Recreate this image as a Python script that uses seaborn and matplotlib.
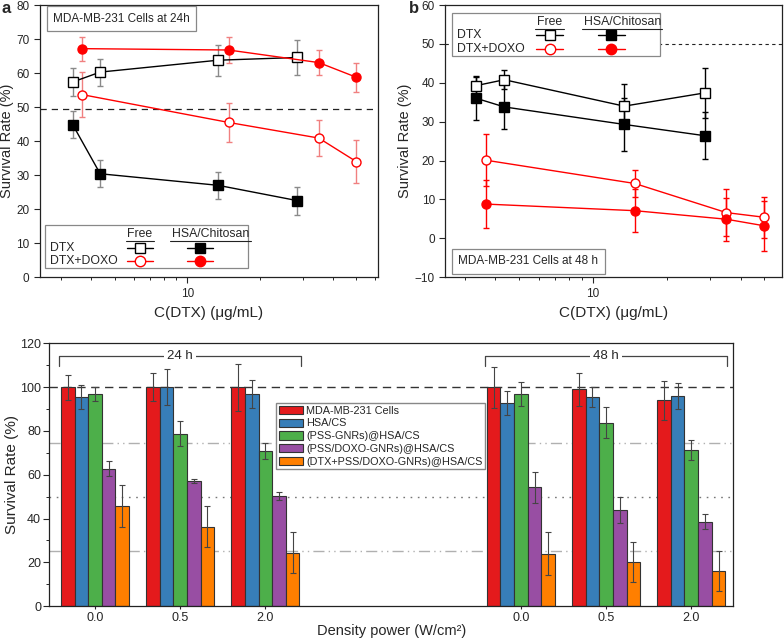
import numpy as np
import pandas as pd
import matplotlib
matplotlib.use('Agg')
import matplotlib.pyplot as plt
from matplotlib.patches import Rectangle, Patch
from matplotlib.ticker import NullFormatter, MultipleLocator, FixedLocator, FuncFormatter
import seaborn as sns

sns.set_style('ticks')
plt.rcParams['font.family'] = ['Liberation Sans', 'DejaVu Sans']

# ---- data: panels a / b (survival vs DTX concentration) ----
conc_dtx = [3.35, 4.35, 13.4, 28.5]      # x for DTX series
conc_doxo = [3.65, 14.8, 35.0, 50.0]     # x for DTX+DOXO series

a_dtx_free = [57.4, 60.3, 63.8, 64.6]
a_dtx_free_err = [4.0, 4.0, 4.6, 5.2]
a_dtx_hsa = [44.8, 30.4, 27.0, 22.5]
a_dtx_hsa_err = [4.0, 4.0, 4.0, 4.1]
a_doxo_free = [53.7, 45.5, 40.9, 34.0]
a_doxo_free_err = [6.5, 5.8, 5.3, 6.3]
a_doxo_hsa = [67.2, 66.8, 63.1, 58.8]
a_doxo_hsa_err = [3.5, 3.8, 3.6, 4.3]

b_dtx_free = [39.3, 40.8, 34.0, 37.4]
b_dtx_free_err = [2.4, 2.5, 5.6, 6.4]
b_dtx_hsa = [36.0, 33.8, 29.3, 26.4]
b_dtx_hsa_err = [5.6, 5.8, 6.8, 6.0]
b_doxo_free = [20.1, 14.1, 6.6, 5.4]
b_doxo_free_err = [6.7, 3.5, 6.0, 5.3]
b_doxo_hsa = [8.8, 7.1, 4.9, 3.2]
b_doxo_hsa_err = [6.1, 5.6, 5.5, 6.4]

# ---- data: bottom panel (bars) ----
times = ['24 h', '48 h']
powers = ['0.0', '0.5', '2.0']
treatments = ['MDA-MB-231 Cells', 'HSA/CS', '(PSS-GNRs)@HSA/CS',
              '(PSS/DOXO-GNRs)@HSA/CS', '(DTX+PSS/DOXO-GNRs)@HSA/CS']
# order of values: 24h 0.0, 0.5, 2.0, 48h 0.0, 0.5, 2.0
cells_mean = [100, 100, 100, 100, 99, 94]
cells_err = [5.7, 6.3, 10.8, 9.4, 7.6, 9.0]
hsa_mean = [95.5, 100, 96.7, 92.7, 95.6, 96]
hsa_err = [5.5, 8.2, 6.4, 5.5, 4.5, 5.8]
pss_mean = [96.7, 78.8, 70.9, 97, 83.8, 71.2]
pss_err = [3.2, 5.8, 3.8, 5.5, 7.0, 4.7]
doxo_mean = [62.8, 57.2, 50.3, 54.2, 44, 38.5]
doxo_err = [3.5, 0.8, 2.0, 7.0, 6.0, 3.5]
dtx_mean = [45.7, 36.2, 24.4, 24, 20.3, 16]
dtx_err = [9.8, 9.3, 9.3, 9.7, 9.1, 9.3]
bar_colors = ['#E41A1C', '#377EB8', '#4DAF4A', '#984EA3', '#FF7F00']

fig = plt.figure(figsize=(7.84, 6.4), dpi=100)
ax_a = fig.add_axes([0.051, 0.567, 0.431, 0.425])
ax_b = fig.add_axes([0.568, 0.567, 0.4295, 0.425])
ax_c = fig.add_axes([0.063, 0.053, 0.872, 0.4105])


def draw_series(ax, x, y, err, color, marker, filled, ecolor):
    sns.lineplot(x=x, y=y, ax=ax, color=color, lw=1, marker=marker, markersize=6.5,
                 markerfacecolor=color if filled else 'white', markeredgecolor=color,
                 markeredgewidth=1, zorder=3)
    ax.errorbar(x, y, yerr=err, fmt='none', ecolor=ecolor, elinewidth=1,
                capsize=2.5, capthick=1, zorder=2)


def table_legend(ax, x0, y0, w, h):
    ax.add_patch(Rectangle((x0, y0), w, h, transform=ax.transAxes, facecolor='white',
                           edgecolor='#888888', lw=0.9, zorder=4))
    fx = lambda f: x0 + f * w
    fy = lambda f: y0 + f * h
    r = fig.canvas.get_renderer()
    for label, cx in [('Free', 0.468), ('HSA/Chitosan', 0.816)]:
        t = ax.text(fx(cx), fy(0.79), label, transform=ax.transAxes, ha='center',
                    va='center', fontsize=8.8, zorder=5)
        bb = t.get_window_extent(renderer=r).transformed(ax.transAxes.inverted())
        ax.plot([bb.x0 - 0.005, bb.x1 + 0.005], [bb.y0 - 0.004] * 2, transform=ax.transAxes,
                color='#222222', lw=0.8, zorder=5)
    rows = [('DTX', 'k', 's', 0.48), ('DTX+DOXO', 'red', 'o', 0.16)]
    for label, c, m, ry in rows:
        ax.text(fx(0.025), fy(ry), label, transform=ax.transAxes, ha='left',
                va='center', fontsize=8.8, zorder=5)
        for cx, filled in [(0.468, False), (0.765, True)]:
            ax.plot([fx(cx - 0.064), fx(cx + 0.064)], [fy(ry)] * 2, transform=ax.transAxes,
                    color=c, lw=1, zorder=5)
            ax.plot([fx(cx)], [fy(ry)], transform=ax.transAxes, marker=m, markersize=7.5,
                    markerfacecolor=c if filled else 'white', markeredgecolor=c,
                    markeredgewidth=1, zorder=6)


def style_log_axis(ax, xlim, ylim, ystep):
    ax.set_xscale('log')
    ax.set_xlim(*xlim)
    ax.set_ylim(*ylim)
    ax.yaxis.set_major_locator(MultipleLocator(ystep))
    ax.xaxis.set_major_formatter(FuncFormatter(lambda v, p: f'{v:g}'))
    ax.xaxis.set_minor_formatter(NullFormatter())
    ax.tick_params(axis='both', which='major', labelsize=8.5, direction='out', length=4,
                   width=0.8, top=False, right=False)
    ax.tick_params(axis='x', which='minor', direction='out', length=2.5, width=0.7)
    for s in ax.spines.values():
        s.set_linewidth(0.9)
        s.set_color('#222222')
    ax.set_xlabel('C(DTX) (μg/mL)', fontsize=11, labelpad=5)
    ax.set_ylabel('Survival Rate (%)', fontsize=10.5, labelpad=2)


# ---- panel a ----
draw_series(ax_a, conc_dtx, a_dtx_free, a_dtx_free_err, 'k', 's', False, '#8a8a8a')
draw_series(ax_a, conc_dtx, a_dtx_hsa, a_dtx_hsa_err, 'k', 's', True, '#8a8a8a')
draw_series(ax_a, conc_doxo, a_doxo_free, a_doxo_free_err, 'red', 'o', False, '#f08080')
draw_series(ax_a, conc_doxo, a_doxo_hsa, a_doxo_hsa_err, 'red', 'o', True, '#f08080')
ax_a.axhline(49.5, color='#222222', ls=(0, (5, 4)), lw=0.9, zorder=1)
style_log_axis(ax_a, (2.45, 61.5), (0, 80), 10)
ax_a.text(0.039, 0.949, 'MDA-MB-231 Cells at 24h', transform=ax_a.transAxes, fontsize=8.5,
          ha='left', va='center',
          bbox=dict(boxstyle='square,pad=0.55', fc='white', ec='#888888', lw=0.9))
table_legend(ax_a, 0.015, 0.033, 0.6, 0.158)

# ---- panel b ----
draw_series(ax_b, conc_dtx, b_dtx_free, b_dtx_free_err, 'k', 's', False, 'k')
draw_series(ax_b, conc_dtx, b_dtx_hsa, b_dtx_hsa_err, 'k', 's', True, 'k')
draw_series(ax_b, conc_doxo, b_doxo_free, b_doxo_free_err, 'red', 'o', False, 'red')
draw_series(ax_b, conc_doxo, b_doxo_hsa, b_doxo_hsa_err, 'red', 'o', True, 'red')
ax_b.axhline(50, color='#222222', ls=(0, (3, 3)), lw=0.8, zorder=1)
style_log_axis(ax_b, (2.5, 59), (-10, 60), 10)
ax_b.text(0.039, 0.059, 'MDA-MB-231 Cells at 48 h', transform=ax_b.transAxes, fontsize=8.5,
          ha='left', va='center',
          bbox=dict(boxstyle='square,pad=0.55', fc='white', ec='#888888', lw=0.9))
table_legend(ax_b, 0.02, 0.813, 0.619, 0.159)

fig.text(0.002, 0.998, 'a', fontsize=12, fontweight='bold', va='top', ha='left')
fig.text(0.521, 0.998, 'b', fontsize=12, fontweight='bold', va='top', ha='left')

# ---- bottom panel ----
means = [cells_mean, hsa_mean, pss_mean, doxo_mean, dtx_mean]
errs = [cells_err, hsa_err, pss_err, doxo_err, dtx_err]
groups = [f'{t} {p}' for t in times for p in powers]
rows = []
for name, m, e in zip(treatments, means, errs):
    for g, v, s in zip(groups, m, e):
        rows.append({'group': g, 'treatment': name, 'rate': v, 'err': s})
df = pd.DataFrame(rows)
order = groups[:3] + ['gap1', 'gap2'] + groups[3:]

sns.barplot(data=df, x='group', y='rate', hue='treatment', order=order,
            hue_order=treatments, palette=bar_colors, saturation=1, width=0.8,
            edgecolor='#333333', linewidth=0.8, errorbar=None, legend=False, ax=ax_c,
            zorder=2)
err_lookup = {(r.group, r.treatment): r.err for r in df.itertuples()}
for cont, name in zip(ax_c.containers, treatments):
    for bar in cont:
        cx = bar.get_x() + bar.get_width() / 2
        g = order[int(round(cx))]
        ax_c.errorbar(cx, bar.get_height(), yerr=err_lookup[(g, name)], fmt='none',
                      ecolor='#444444', elinewidth=0.8, capsize=2.2, capthick=0.8, zorder=3)

ax_c.axhline(100, color='#333333', ls=(0, (6, 4)), lw=1, zorder=0)
ax_c.axhline(74.5, color='#b0b0b0', ls=(0, (8, 3, 1, 3, 1, 3)), lw=1, zorder=0)
ax_c.axhline(50, color='#777777', ls=(0, (1.2, 4)), lw=1, zorder=0)
ax_c.axhline(25, color='#b0b0b0', ls=(0, (8, 3, 1, 3, 1, 3)), lw=1, zorder=0)

pos = [order.index(g) for g in groups]
for t, ps in zip(times, [pos[:3], pos[3:]]):
    left, right = ps[0] - 0.42, ps[-1] + 0.42
    ax_c.plot([left, left, right, right], [109.5, 114, 114, 109.5], color='#444444', lw=0.9,
              zorder=1)
    ax_c.text(ps[1], 114, t, ha='center', va='center', fontsize=9.5,
              bbox=dict(boxstyle='square,pad=0.25', fc='white', ec='none'), zorder=2)

ax_c.set_xlim(-0.535, 7.49)
ax_c.set_ylim(0, 120)
ax_c.xaxis.set_major_locator(FixedLocator(pos))
ax_c.set_xticklabels(powers * 2)
ax_c.yaxis.set_major_locator(MultipleLocator(20))
ax_c.yaxis.set_minor_locator(MultipleLocator(10))
ax_c.tick_params(axis='both', which='major', labelsize=9, direction='out', length=4, width=0.8,
                 pad=2)
ax_c.tick_params(axis='y', which='minor', direction='out', length=2.5, width=0.7)
ax_c.tick_params(axis='x', which='major', length=2.5, pad=1.5)
for s in ax_c.spines.values():
    s.set_linewidth(0.9)
    s.set_color('#222222')
ax_c.set_xlabel('Density power (W/cm²)', fontsize=10.5, labelpad=0)
ax_c.set_ylabel('Survival Rate (%)', fontsize=11, labelpad=1)

handles = [Patch(facecolor=c, edgecolor='#333333', lw=0.8, label=n)
           for c, n in zip(bar_colors, treatments)]
ax_c.legend(handles=handles, loc='upper left', bbox_to_anchor=(0.332, 0.773),
            frameon=True, fancybox=False, edgecolor='#888888', framealpha=1, fontsize=7.8,
            handlelength=2.2, handleheight=0.8, labelspacing=0.25, borderpad=0.25,
            handletextpad=0.3, borderaxespad=0)

fig.savefig('out.png', dpi=100)
